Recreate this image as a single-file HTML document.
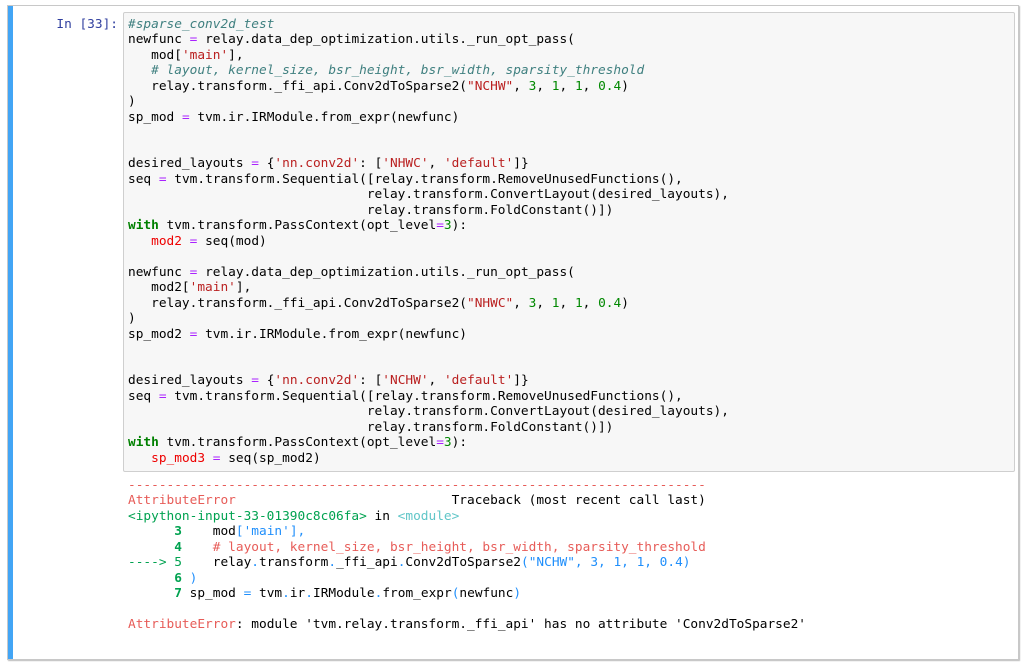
<!DOCTYPE html>
<html><head><meta charset="utf-8"><style>
body{margin:0;width:1024px;height:665px;background:#fff;position:relative;overflow:hidden;font-family:"DejaVu Sans Mono","Liberation Mono",monospace;}
.cell{position:absolute;left:7px;top:5px;width:1010px;height:653px;border:1px solid #c8c8c8;box-shadow:1px 1px 1px #bbb;}
.bar{position:absolute;left:8px;top:6px;width:5px;height:653px;background:#42a5f5;}
.prompt{position:absolute;left:20px;top:16.5px;width:98px;text-align:right;color:#303F9F;font-size:12.8px;line-height:15.5px;}
.inbox{position:absolute;left:123px;top:12px;width:890px;height:458px;background:#f7f7f7;border:1px solid #cfcfcf;border-radius:2px;}
pre{margin:0;font-family:inherit;font-size:12.8px;line-height:15.5px;position:absolute;left:128px;white-space:pre;color:#000;}
.c{color:#408080;font-style:italic}.s{color:#BA2121}.o{color:#AA22FF}.n{color:#008800}.k{color:#008000;font-weight:bold}.v{color:#e00}
.r{color:#E75C58}.g{color:#00A250}.cy{color:#60C6C8}.b{color:#208FFB}.gb{color:#00a250;font-weight:bold}
</style></head><body>
<div class="cell"></div><div class="bar"></div>
<div class="prompt">In [33]:</div>
<div class="inbox"></div>
<pre style="top:16.5px"><span class="c">#sparse_conv2d_test</span>
newfunc <span class="o">=</span> relay.data_dep_optimization.utils._run_opt_pass(
   mod[<span class="s">'main'</span>],
   <span class="c"># layout, kernel_size, bsr_height, bsr_width, sparsity_threshold</span>
   relay.transform._ffi_api.Conv2dToSparse2(<span class="s">"NCHW"</span>, <span class="n">3</span>, <span class="n">1</span>, <span class="n">1</span>, <span class="n">0.4</span>)
)
sp_mod <span class="o">=</span> tvm.ir.IRModule.from_expr(newfunc)


desired_layouts <span class="o">=</span> {<span class="s">'nn.conv2d'</span>: [<span class="s">'NHWC'</span>, <span class="s">'default'</span>]}
seq <span class="o">=</span> tvm.transform.Sequential([relay.transform.RemoveUnusedFunctions(),
                               relay.transform.ConvertLayout(desired_layouts),
                               relay.transform.FoldConstant()])
<span class="k">with</span> tvm.transform.PassContext(opt_level<span class="o">=</span><span class="n">3</span>):
   <span class="v">mod2</span> <span class="o">=</span> seq(mod)

newfunc <span class="o">=</span> relay.data_dep_optimization.utils._run_opt_pass(
   mod2[<span class="s">'main'</span>],
   relay.transform._ffi_api.Conv2dToSparse2(<span class="s">"NHWC"</span>, <span class="n">3</span>, <span class="n">1</span>, <span class="n">1</span>, <span class="n">0.4</span>)
)
sp_mod2 <span class="o">=</span> tvm.ir.IRModule.from_expr(newfunc)


desired_layouts <span class="o">=</span> {<span class="s">'nn.conv2d'</span>: [<span class="s">'NCHW'</span>, <span class="s">'default'</span>]}
seq <span class="o">=</span> tvm.transform.Sequential([relay.transform.RemoveUnusedFunctions(),
                               relay.transform.ConvertLayout(desired_layouts),
                               relay.transform.FoldConstant()])
<span class="k">with</span> tvm.transform.PassContext(opt_level<span class="o">=</span><span class="n">3</span>):
   <span class="v">sp_mod3</span> <span class="o">=</span> seq(sp_mod2)</pre>
<pre style="top:477.5px"><span class="r">---------------------------------------------------------------------------</span>
<span class="r">AttributeError</span>                            Traceback (most recent call last)
<span class="g">&lt;ipython-input-33-01390c8c06fa&gt;</span> in <span class="cy">&lt;module&gt;</span>
<span class="gb">      3</span>    mod<span class="b">[</span><span class="b">'main'</span><span class="b">],</span>
<span class="gb">      4</span>    <span class="r"># layout, kernel_size, bsr_height, bsr_width, sparsity_threshold</span>
<span class="g">----&gt; 5</span>    relay<span class="b">.</span>transform<span class="b">.</span>_ffi_api<span class="b">.</span>Conv2dToSparse2<span class="b">("NCHW", 3, 1, 1, 0.4)</span>
<span class="gb">      6</span> <span class="b">)</span>
<span class="gb">      7</span> sp_mod <span class="b">=</span> tvm<span class="b">.</span>ir<span class="b">.</span>IRModule<span class="b">.</span>from_expr<span class="b">(</span>newfunc<span class="b">)</span>

<span class="r">AttributeError</span>: module 'tvm.relay.transform._ffi_api' has no attribute 'Conv2dToSparse2'</pre>
</body></html>
